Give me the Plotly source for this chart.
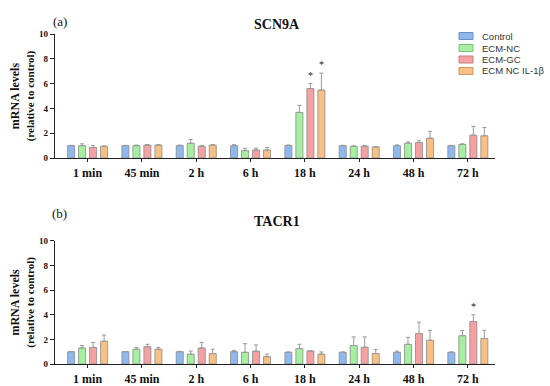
import plotly.graph_objects as go
from plotly.subplots import make_subplots

categories = ["1 min", "45 min", "2 h", "6 h", "18 h", "24 h", "48 h", "72 h"]
series_names = ["Control", "ECM-NC", "ECM-GC", "ECM NC IL-1β"]
colors = ["#8fb9ee", "#a4f0a0", "#f6a1a1", "#f9c084"]
edge_colors = ["#6f8fbf", "#7fbf7c", "#c47f7f", "#c79a66"]

# SCN9A (panel a)
scn_control = [1.0, 1.0, 1.0, 1.0, 1.02, 1.0, 1.0, 1.0]
scn_control_err = [0.03, 0.03, 0.05, 0.08, 0.03, 0.03, 0.06, 0.03]
scn_ecmnc = [1.0, 1.0, 1.2, 0.6, 3.68, 0.95, 1.2, 1.1]
scn_ecmnc_err = [0.15, 0.05, 0.3, 0.18, 0.57, 0.03, 0.1, 0.05]
scn_ecmgc = [0.85, 1.05, 0.95, 0.65, 5.6, 0.95, 1.25, 1.85]
scn_ecmgc_err = [0.15, 0.03, 0.07, 0.15, 0.4, 0.07, 0.15, 0.7]
scn_il1b = [0.95, 1.05, 1.05, 0.65, 5.48, 0.9, 1.6, 1.8]
scn_il1b_err = [0.02, 0.02, 0.02, 0.2, 1.37, 0.02, 0.55, 0.67]

# TACR1 (panel b)
tac_control = [1.0, 1.0, 1.0, 1.0, 0.95, 0.95, 0.95, 0.95]
tac_control_err = [0.02, 0.02, 0.03, 0.1, 0.03, 0.03, 0.1, 0.03]
tac_ecmnc = [1.3, 1.2, 0.8, 0.95, 1.25, 1.5, 1.6, 2.3]
tac_ecmnc_err = [0.2, 0.15, 0.25, 0.7, 0.35, 0.7, 0.57, 0.42]
tac_ecmgc = [1.35, 1.4, 1.3, 1.05, 1.06, 1.36, 2.47, 3.45]
tac_ecmgc_err = [0.4, 0.2, 0.45, 0.5, 0.02, 0.84, 0.93, 0.55]
tac_il1b = [1.85, 1.2, 0.85, 0.6, 0.8, 0.85, 1.93, 2.07]
tac_il1b_err = [0.5, 0.15, 0.35, 0.2, 0.18, 0.32, 0.81, 0.67]

# significance markers: (panel row, category, series index)
stars = [(1, "18 h", 2), (1, "18 h", 3), (2, "72 h", 2)]

y_ticks = [0, 2, 4, 6, 8, 10]
panel_titles = ["SCN9A", "TACR1"]
panel_labels = ["(a)", "(b)"]

panels = [
    (1, [scn_control, scn_ecmnc, scn_ecmgc, scn_il1b],
     [scn_control_err, scn_ecmnc_err, scn_ecmgc_err, scn_il1b_err]),
    (2, [tac_control, tac_ecmnc, tac_ecmgc, tac_il1b],
     [tac_control_err, tac_ecmnc_err, tac_ecmgc_err, tac_il1b_err]),
]

W, H = 550, 386
ML, MR, MT, MB = 55, 55, 34, 22
PW, PH = W - ML - MR, H - MT - MB


def px_to_paper(px, py):
    return (px - ML) / PW, (H - MB - py) / PH


fig = make_subplots(rows=2, cols=1, vertical_spacing=0.25)

SERIF = "Liberation Serif"
for row, vals, errs in panels:
    for i, (name, col) in enumerate(zip(series_names, colors)):
        fig.add_trace(go.Bar(
            x=categories, y=vals[i], name=name,
            marker=dict(color=col, line=dict(color="#8a8a8a", width=0.8)),
            error_y=dict(type="data", symmetric=False, array=errs[i],
                         arrayminus=[0] * len(errs[i]),
                         color="#9a9a9a", thickness=1, width=2),
            showlegend=False,
        ), row=row, col=1)

bargap = 0.19
nser = 4
slot = (1 - bargap) / nser
for row, cat, si in stars:
    vals, errs = panels[row - 1][1], panels[row - 1][2]
    ci = categories.index(cat)
    top = vals[si][ci] + errs[si][ci]
    xpos = ci + (si - (nser - 1) / 2) * slot
    fig.add_annotation(x=xpos, y=top, xref=f"x{'' if row == 1 else row}",
                       yref=f"y{'' if row == 1 else row}",
                       text="*", showarrow=False, yanchor="bottom", yshift=1,
                       font=dict(family=SERIF, size=10, color="#222"))

axis_common = dict(showline=True, linecolor="#222", linewidth=1.3,
                   ticks="outside", tickcolor="#222", tickwidth=1.2,
                   automargin=False, showgrid=False)
ytitle = ("<b>mRNA levels</b><br>"
          "<b><span style='font-size:11px'>(relative to control)</span></b>")
for row in (1, 2):
    fig.update_xaxes(row=row, col=1, range=[-0.6, 7.5], ticklen=3, **axis_common,
                     tickfont=dict(family=SERIF, size=12, color="#111", weight="bold"))
    fig.update_yaxes(row=row, col=1, range=[0, 10], tickvals=y_ticks, ticklen=4,
                     zeroline=False, **axis_common,
                     tickfont=dict(family=SERIF, size=9, color="#111", weight="bold"),
                     title=dict(text=ytitle,
                                font=dict(family=SERIF, size=12, color="#111"),
                                standoff=1))

fig.update_layout(
    width=W, height=H,
    margin=dict(l=ML, r=MR, t=MT, b=MB),
    barmode="group", bargap=bargap, bargroupgap=0.36,
    plot_bgcolor="white", paper_bgcolor="white",
    font=dict(family=SERIF, color="#111"),
    showlegend=False,
    yaxis=dict(domain=[0.624, 1.0]),
    yaxis2=dict(domain=[0.0, 0.373]),
)

# legend (manual, built from series names & colours)
leg_y = [36, 48, 59.5, 71]
for name, col, ec, ly in zip(series_names, colors, edge_colors, leg_y):
    x0, y0 = px_to_paper(459, ly - 3.5)
    x1, y1 = px_to_paper(473, ly + 3.5)
    fig.add_shape(type="rect", xref="paper", yref="paper", x0=x0, x1=x1,
                  y0=y1, y1=y0, fillcolor=col, line=dict(color=ec, width=1))
    tx, ty = px_to_paper(480, ly)
    fig.add_annotation(text=name, x=tx, y=ty, xref="paper", yref="paper",
                       xanchor="left", yanchor="middle", showarrow=False,
                       font=dict(family="Liberation Sans", size=9.5, color="#333"))

for (px, py), t in zip([(277, 15), (277, 221)], panel_titles):
    x, y = px_to_paper(px, py)
    fig.add_annotation(text=f"<b>{t}</b>", x=x, y=y, xref="paper", yref="paper",
                       showarrow=False, font=dict(family=SERIF, size=14))
for (px, py), t in zip([(51, 12), (50, 213)], panel_labels):
    x, y = px_to_paper(px, py)
    fig.add_annotation(text=t, x=x, y=y, xref="paper", yref="paper",
                       showarrow=False, font=dict(family=SERIF, size=13))

fig.write_html("out.html", config={"displayModeBar": False},
               post_script="document.body.style.margin='0';"
                           "document.body.style.overflow='hidden';")
